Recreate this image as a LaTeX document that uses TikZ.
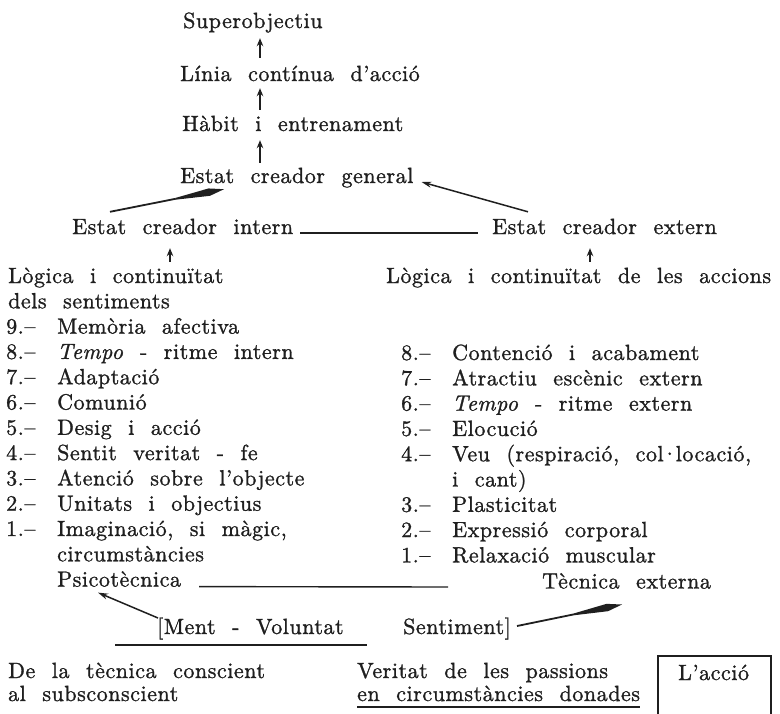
\documentclass[tikz,border=0pt]{standalone}
\usepackage{fontspec}
\setmainfont{lmroman10-regular.otf}[ItalicFont=lmroman10-italic.otf, LetterSpace=2.5, WordSpace=2.1, FakeBold=1.2]
\usepackage{tikz}
\usetikzlibrary{arrows.meta, positioning, calc}

\colorlet{ink}{black!88}
\newcommand{\nlab}[1]{\makebox[51pt][l]{#1}}

\tikzset{
  lbl/.style={anchor=base west, inner sep=0pt, text height=15pt, text depth=5pt,
    font=\fontsize{22}{25}\selectfont, text=ink},
  uparrow/.style={draw=ink, line width=1.6pt, -{Stealth[length=8pt,width=6.5pt]}},
  thinarrow/.style={draw=ink, line width=1.5pt, -{Stealth[length=10pt,width=6pt]}},
  spear/.style={draw=ink, line width=1.8pt, -{Kite[length=60pt,width=7.5pt,inset=45pt]}},
  rule/.style={draw=ink, line width=1.4pt}
}

\begin{document}
\begin{tikzpicture}[x=1pt,y=-1pt]
  \useasboundingbox (0,0) rectangle (780,713);
  % top column
  \node[lbl] (superob) at (183,28) {Superobjectiu};
  \node[lbl] (linia) at (180,81) {Línia contínua d'acció};
  \node[lbl] (habit) at (182,131) {Hàbit i entrenament};
  \node[lbl] (general) at (180,183) {Estat creador general};
  \coordinate (axis) at (260,0);
  \draw[uparrow, shorten <=8pt, shorten >=5pt] (linia.north -| axis) -- (superob.south -| axis);
  \draw[uparrow, shorten <=6pt, shorten >=2pt] (habit.north -| axis) -- (linia.south -| axis);
  \draw[uparrow, shorten <=5pt, shorten >=4pt] (general.north -| axis) -- (habit.south -| axis);

  % inner / outer creative state
  \node[lbl] (intern) at (72,234) {Estat creador intern};
  \node[lbl] (extern) at (492,234) {Estat creador extern};
  \draw[rule] ([xshift=7pt,yshift=1pt]intern.base east) -- ([xshift=-14pt,yshift=1pt]extern.base west);
  \draw[spear] ([xshift=38pt,yshift=7pt]intern.north west) -- ([xshift=44pt,yshift=-1pt]general.south west);
  \draw[thinarrow] ([xshift=36pt,yshift=7pt]extern.north west) -- ([xshift=8pt,yshift=1pt]general.base east);

  % left list
  \node[lbl] (lg) at (8,283) {Lògica i continuïtat};
  \node[lbl] (ls) at (8,308.3) {dels sentiments};
  \node[lbl] (l9) at (6,333.6) {\nlab{9.–}Memòria afectiva};
  \node[lbl] (l8) at (6,358.9) {\nlab{8.–}\textit{Tempo} - ritme intern};
  \node[lbl] (l7) at (6,384.2) {\nlab{7.–}Adaptació};
  \node[lbl] (l6) at (6,409.5) {\nlab{6.–}Comunió};
  \node[lbl] (l5) at (6,434.8) {\nlab{5.–}Desig i acció};
  \node[lbl] (l4) at (6,460.1) {\nlab{4.–}Sentit veritat - fe};
  \node[lbl] (l3) at (6,485.4) {\nlab{3.–}Atenció sobre l'objecte};
  \node[lbl] (l2) at (6,510.7) {\nlab{2.–}Unitats i objectius};
  \node[lbl] (l1) at (6,536) {\nlab{1.–}Imaginació, si màgic,};
  \node[lbl] (lcirc) at (57,561.3) {circumstàncies};
  \node[lbl] (psico) at (57,586.6) {Psicotècnica};
  \coordinate (laxis) at (170,0);
  \draw[uparrow, shorten <=6pt, shorten >=9pt] (lg.north -| laxis) -- (intern.south -| laxis);

  % right list
  \node[lbl] (ra) at (386,283) {Lògica i continuïtat de les accions};
  \node[lbl] (r8) at (401,360) {\nlab{8.–}Contenció i acabament};
  \node[lbl] (r7) at (401,385.3) {\nlab{7.–}Atractiu escènic extern};
  \node[lbl] (r6) at (401,410.6) {\nlab{6.–}\textit{Tempo} - ritme extern};
  \node[lbl] (r5) at (401,435.9) {\nlab{5.–}Elocució};
  \node[lbl] (r4) at (401,461.2) {\nlab{4.–}Veu (respiració, col\kern-2.5pt·\kern-2.5pt locació,};
  \node[lbl] (rcant) at (452,486.5) {i cant)};
  \node[lbl] (r3) at (401,511.8) {\nlab{3.–}Plasticitat};
  \node[lbl] (r2) at (401,537.1) {\nlab{2.–}Expressió corporal};
  \node[lbl] (r1) at (401,562.4) {\nlab{1.–}Relaxació muscular};
  \node[lbl] (tecext) at (542,588.5) {Tècnica externa};
  \coordinate (raxis) at (590,0);
  \draw[uparrow, shorten <=6pt, shorten >=9pt] (ra.north -| raxis) -- (extern.south -| raxis);
  \draw[rule] ([xshift=18pt]psico.base east) -- ([xshift=-94pt,yshift=1.5pt]tecext.base west);

  % mind - will - feeling
  \node[lbl] (mentvol) at (157,634) {[Ment - Voluntat};
  \node[lbl] (sentim) at (403,634) {Sentiment]};
  \draw[rule] ([xshift=-42pt,yshift=-11pt]mentvol.base west) -- ([xshift=210pt,yshift=-11pt]mentvol.base west);
  \draw[thinarrow] ([xshift=1pt,yshift=16pt]mentvol.base west) -- ([xshift=41pt,yshift=-6pt]psico.base west);
  \draw[spear] ([xshift=6pt,yshift=8pt]sentim.base east) -- ([xshift=80pt,yshift=-16pt]tecext.base west);

  % bottom line
  \node[lbl] (consc) at (8,678) {De la tècnica conscient};
  \node[lbl] (subcons) at (8,701) {al subsconscient};
  \node[lbl] (verit) at (357,678) {Veritat de les passions};
  \node[lbl] (circ) at (357,701) {en circumstàncies donades};
  \draw[rule] ([yshift=-6pt]circ.base west) -- ([yshift=-6pt]circ.base east);
  \node[lbl] (accio) at (678,680) {L'acció};
  \coordinate (boxbl) at (658,716);
  \coordinate (boxtr) at (771,656);
  \draw[rule] (boxbl) |- (boxtr) -- (boxtr |- boxbl);
\end{tikzpicture}
\end{document}
